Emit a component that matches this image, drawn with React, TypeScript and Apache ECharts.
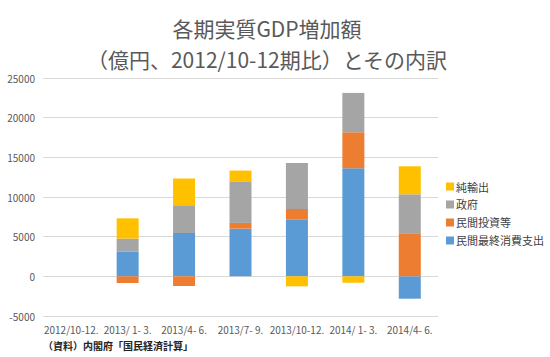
import React, { useEffect, useRef } from "react";
import * as echarts from "echarts";

const categories = ["2012/10-12.", "2013/ 1- 3.", "2013/4- 6.", "2013/7- 9.", "2013/10-12.", "2014/ 1- 3.", "2014/4- 6."];
const consumption = [0, 3100, 5460, 6010, 7150, 13620, -2820];
const investment = [0, -840, -1220, 720, 1340, 4540, 5420];
const government = [0, 1650, 3500, 5170, 5800, 4960, 4920];
const netExports = [0, 2560, 3370, 1430, -1260, -800, 3530];
const seriesNames = ["民間最終消費支出", "民間投資等", "政府", "純輸出"];
const colors = ["#5B9BD5", "#ED7D31", "#A5A5A5", "#FFC000"];

const FONT = "'Noto Sans CJK JP', 'Noto Sans', sans-serif";

export default function App() {
  const ref = useRef<HTMLDivElement>(null);
  useEffect(() => {
    if (!ref.current) return;
    const chart = echarts.init(ref.current, undefined, { renderer: "svg" });
    const dataSets = [consumption, investment, government, netExports];
    chart.setOption({
      animation: false,
      backgroundColor: "#ffffff",
      textStyle: { fontFamily: FONT },
      title: {
        text: "各期実質GDP増加額\n（億円、2012/10-12期比）とその内訳",
        left: 262,
        textAlign: "center",
        top: 7,
        textStyle: { fontFamily: FONT, fontSize: 21, fontWeight: "normal", color: "#595959", lineHeight: 31 },
      },
      legend: {
        data: ["純輸出", "政府", "民間投資等", "民間最終消費支出"],
        orient: "vertical",
        left: 441,
        top: 176,
        itemWidth: 8,
        itemHeight: 8,
        itemGap: 7,
        icon: "rect",
        textStyle: { fontFamily: FONT, fontSize: 11, color: "#404040", padding: [0, 0, 0, -3] },
      },
      grid: { left: 43, right: 112, top: 78, bottom: 41, containLabel: false },
      xAxis: {
        type: "category",
        data: categories,
        axisLine: { show: false, onZero: false },
        axisTick: { show: false },
        axisLabel: { fontFamily: FONT, fontSize: 10, color: "#595959", margin: 8, interval: 0 },
      },
      yAxis: {
        type: "value",
        min: -5000,
        max: 25000,
        interval: 5000,
        axisLine: { show: false },
        axisTick: { show: false },
        axisLabel: {
          fontFamily: FONT,
          fontSize: 10,
          color: "#595959",
          margin: 8,
          formatter: (v: number) => String(v),
        },
        splitLine: { lineStyle: { color: "#D9D9D9", width: 1 } },
      },
      series: seriesNames.map((name, i) => ({
        name,
        type: "bar",
        stack: "total",
        barWidth: 22,
        data: dataSets[i],
        itemStyle: { color: colors[i] },
      })),
      graphic: [
        {
          type: "text",
          left: 43,
          top: 340,
          style: {
            text: "（資料）内閣府「国民経済計算」",
            fontFamily: FONT,
            fontSize: 10,
            fontWeight: "bold",
            fill: "#222222",
          },
        },
      ],
    });
    return () => chart.dispose();
  }, []);
  return <div ref={ref} style={{ width: 550, height: 357, position: "absolute", left: 0, top: 0 }} />;
}
